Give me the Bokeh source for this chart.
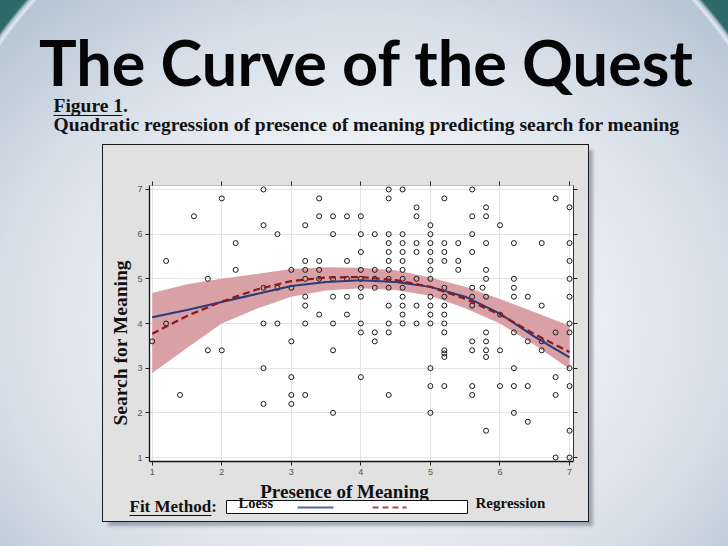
from bokeh.plotting import figure
from bokeh.models import (Range1d, LinearAxis, FixedTicker, Title, Column, Row, Spacer)
from bokeh.core.properties import value
from bokeh.embed import file_html
from bokeh.resources import INLINE

# ---------------- data ----------------
# Search for Meaning levels and the Presence of Meaning scores observed at each level
search_levels = [7.0, 6.8, 6.6, 6.4, 6.2, 6.0, 5.8, 5.6, 5.4, 5.2, 5.0, 4.8, 4.6, 4.4, 4.2,
                 4.0, 3.8, 3.6, 3.4, 3.33, 3.25, 3.0, 2.8, 2.6, 2.4, 2.2, 2.0, 1.8, 1.6, 1.0]
presence_at_7_0 = [2.6, 4.4, 4.6, 5.6]
presence_at_6_8 = [2.0, 3.4, 4.4, 5.2, 6.8]
presence_at_6_6 = [4.8, 5.8, 7.0]
presence_at_6_4 = [1.6, 3.4, 3.6, 3.8, 4.0, 4.8, 5.6, 5.8]
presence_at_6_2 = [2.6, 3.2, 5.0, 6.0]
presence_at_6_0 = [2.8, 3.6, 4.0, 4.2, 4.4, 4.6, 5.0, 5.6]
presence_at_5_8 = [2.2, 4.4, 4.6, 4.8, 5.0, 5.2, 5.4, 5.8, 6.2, 6.6, 7.0]
presence_at_5_6 = [4.0, 4.4, 4.6, 4.8, 5.0, 5.2, 5.6]
presence_at_5_4 = [1.2, 3.2, 3.4, 3.8, 4.4, 4.6, 5.0, 5.2, 5.4, 7.0]
presence_at_5_2 = [2.2, 3.0, 3.2, 3.4, 4.0, 4.2, 4.4, 4.6, 5.0, 5.4, 5.8]
presence_at_5_0 = [1.8, 3.2, 3.4, 3.6, 3.8, 4.0, 4.2, 4.4, 4.6, 4.8, 5.0, 5.8, 6.2, 7.0]
presence_at_4_8 = [2.6, 2.8, 3.0, 4.0, 4.2, 4.4, 4.6, 5.2, 5.6, 5.75, 6.2]
presence_at_4_6 = [3.2, 3.6, 3.8, 4.0, 4.6, 5.0, 5.2, 5.6, 5.8, 6.2, 6.4, 7.0]
presence_at_4_4 = [3.2, 4.4, 4.6, 4.8, 5.0, 5.2, 5.6, 6.6]
presence_at_4_2 = [3.4, 3.8, 4.6, 5.0, 5.2, 6.0]
presence_at_4_0 = [1.2, 2.6, 2.8, 3.2, 3.6, 4.0, 4.4, 4.6, 4.8, 5.0, 5.2, 7.0]
presence_at_3_8 = [4.0, 4.2, 4.4, 5.2, 5.8, 6.2, 6.8, 7.0]
presence_at_3_6 = [1.0, 3.0, 4.2, 5.6, 5.8, 6.4, 6.6]
presence_at_3_4 = [1.8, 2.0, 3.6, 5.2, 5.6, 5.8, 6.0, 6.6]
presence_at_3_33 = [5.2]
presence_at_3_25 = [5.2, 5.8]
presence_at_3_0 = [2.6, 5.0, 6.2, 7.0]
presence_at_2_8 = [3.0, 4.0, 6.8]
presence_at_2_6 = [5.0, 5.2, 5.6, 6.0, 6.2, 6.4, 7.0]
presence_at_2_4 = [1.4, 3.0, 3.2, 4.4, 5.6, 6.8]
presence_at_2_2 = [2.6, 3.0]
presence_at_2_0 = [3.6, 5.0, 6.2]
presence_at_1_8 = [6.4]
presence_at_1_6 = [5.8, 7.0]
presence_at_1_0 = [6.8, 7.0]

presence_rows = [presence_at_7_0, presence_at_6_8, presence_at_6_6, presence_at_6_4,
                 presence_at_6_2, presence_at_6_0, presence_at_5_8, presence_at_5_6,
                 presence_at_5_4, presence_at_5_2, presence_at_5_0, presence_at_4_8,
                 presence_at_4_6, presence_at_4_4, presence_at_4_2, presence_at_4_0,
                 presence_at_3_8, presence_at_3_6, presence_at_3_4, presence_at_3_33,
                 presence_at_3_25, presence_at_3_0, presence_at_2_8, presence_at_2_6,
                 presence_at_2_4, presence_at_2_2, presence_at_2_0, presence_at_1_8,
                 presence_at_1_6, presence_at_1_0]

# fitted curves
curve_x = [1.0, 1.5, 2.0, 2.5, 3.0, 3.5, 4.0, 4.5, 5.0, 5.5, 6.0, 6.5, 7.0]
loess_y = [4.14, 4.30, 4.48, 4.66, 4.84, 4.93, 4.97, 4.93, 4.82, 4.60, 4.22, 3.70, 3.24]
regression_y = [3.77, 4.17, 4.49, 4.76, 4.95, 5.03, 5.04, 4.97, 4.82, 4.55, 4.20, 3.76, 3.36]
band_lower = [2.89, 3.45, 4.00, 4.33, 4.60, 4.74, 4.79, 4.75, 4.62, 4.34, 4.00, 3.52, 2.98]
band_upper = [4.68, 4.88, 5.00, 5.11, 5.22, 5.26, 5.25, 5.19, 5.03, 4.82, 4.55, 4.25, 3.95]

axis_ticks = [1, 2, 3, 4, 5, 6, 7]

title_text = "The Curve of the Quest"
figure_text = "Figure 1."
caption_text = "Quadratic regression of presence of meaning predicting search for meaning"
x_title = "Presence of Meaning"
y_title = "Search for Meaning"
legend_title = "Fit Method:"
legend_labels = ["Loess", "Regression"]

# ---------------- build ----------------
pm = []
sm = []
for lvl, row in zip(search_levels, presence_rows):
    for v in row:
        pm.append(v)
        sm.append(lvl)

SERIF = "Liberation Serif"
INK = "#111111"
PANEL = "#e1e1e1"
BG = ("radial-gradient(circle 452px at 364px 300px, rgba(0,0,0,0) 443px, "
      "rgba(228,240,240,0.9) 446px, rgba(0,0,0,0) 449px, #2f6b6b 452px, #1d5252 560px), "
      "radial-gradient(ellipse 520px 430px at 364px 320px, #fafbfc 0%, #edf1f5 40%, "
      "#d6dee8 70%, #b2c1d1 100%)")


def bare_figure(w, h, fill):
    f = figure(width=w, height=h, output_backend="svg", toolbar_location=None,
               x_range=Range1d(0, w), y_range=Range1d(h, 0), title=None,
               x_axis_location=None, y_axis_location=None,
               min_border=0, min_border_left=0, min_border_right=0,
               min_border_top=0, min_border_bottom=0)
    f.grid.visible = False
    f.outline_line_color = None
    f.border_fill_color = fill
    f.background_fill_color = fill
    return f


def shift(px):
    # the text anchor sits about a third of the font size above the drawn baseline
    return 0.34 * px


# ---- slide heading ----
tf = bare_figure(728, 145, None)
tf.text(x=[366], y=[82 - shift(63)], text=[title_text], text_font=value("Lato"),
        text_font_style="bold", text_font_size="63px", text_align="center",
        text_baseline="alphabetic", text_color="#050505")
tf.text(x=[53, 53], y=[112 - shift(19.5), 131 - shift(19.5)],
        text=[figure_text, caption_text],
        text_font=value(SERIF), text_font_style="bold", text_font_size="19.5px",
        text_align="left", text_baseline="alphabetic", text_color=INK)
tf.segment(x0=[53], y0=[115], x1=[122], y1=[115], line_color=INK, line_width=1.2)

# ---- chart ----
cf = figure(width=485, height=335, output_backend="svg", toolbar_location=None,
            title=None, x_range=Range1d(0.961, 7.057), y_range=Range1d(0.911, 7.089),
            min_border_left=45, min_border_right=15, min_border_top=40,
            min_border_bottom=19)
cf.border_fill_color = PANEL
cf.background_fill_color = "white"
cf.outline_line_color = None

for ax in (cf.xaxis[0], cf.yaxis[0]):
    ax.ticker = FixedTicker(ticks=axis_ticks)
    ax.axis_line_color = "#111111"
    ax.axis_line_width = 1.3
    ax.major_tick_out = 4
    ax.major_tick_in = 0
    ax.major_tick_line_color = "#222222"
    ax.minor_tick_line_color = None
    ax.major_label_text_font = "Liberation Sans"
    ax.major_label_text_font_size = "9px"
    ax.major_label_text_color = "#555555"
    ax.major_label_standoff = 3

for g in (cf.xgrid[0], cf.ygrid[0]):
    g.ticker = FixedTicker(ticks=axis_ticks)
    g.grid_line_color = "#e4e4e4"

for place, col in (("above", "#bbbbbb"), ("right", "#333333")):
    ax = LinearAxis(ticker=FixedTicker(ticks=axis_ticks),
                    major_label_overrides={float(t): "" for t in axis_ticks},
                    axis_line_color=col, major_tick_out=4, major_tick_in=0,
                    major_tick_line_color="#222222", minor_tick_line_color=None)
    cf.add_layout(ax, place)

cf.add_layout(Title(text=y_title, align="left", offset=36, vertical_align="bottom",
                    standoff=8, text_font=SERIF, text_font_style="bold",
                    text_font_size="19.5px", text_color=INK), "left")

cf.varea(x=curve_x, y1=band_lower, y2=band_upper, fill_color="#d9a1a5", fill_alpha=1)
cf.scatter(x=pm, y=sm, marker="circle", size=5, fill_color=None,
           line_color="#1a1a1a", line_width=1)
cf.line(curve_x, loess_y, line_color="#283c7c", line_width=2)
cf.line(curve_x, regression_y, line_color="#8b1a1a", line_width=2.2, line_dash="7 4")

# ---- x title + fit-method legend strip (inside the gray panel) ----
lf = bare_figure(485, 41, PANEL)
lf.text(x=[241], y=[17 - shift(19)], text=[x_title], text_font=value(SERIF),
        text_font_style="bold", text_font_size="19px", text_align="center",
        text_baseline="alphabetic", text_color=INK)
lf.text(x=[26], y=[32 - shift(17)], text=[legend_title], text_font=value(SERIF),
        text_font_style="bold", text_font_size="17px", text_align="left",
        text_baseline="alphabetic", text_color=INK)
lf.segment(x0=[26], y0=[35], x1=[108], y1=[35], line_color=INK, line_width=1.2)
lf.quad(left=[123], right=[364], top=[20], bottom=[33], fill_color="white",
        line_color=INK, line_width=1)
lf.text(x=[135], y=[27 - shift(14.5)], text=[legend_labels[0]], text_font=value(SERIF),
        text_font_style="bold", text_font_size="14.5px", text_align="left",
        text_baseline="alphabetic", text_color=INK)
lf.segment(x0=[194], y0=[27], x1=[230], y1=[27], line_color="#4a6a9c", line_width=2)
lf.segment(x0=[269], y0=[27], x1=[303], y1=[27], line_color="#a84a4a", line_width=2,
           line_dash="6 4")
lf.text(x=[372], y=[28 - shift(15)], text=[legend_labels[1]], text_font=value(SERIF),
        text_font_style="bold", text_font_size="15px", text_align="left",
        text_baseline="alphabetic", text_color=INK)

# wrap the strip in its own row so its frame is not aligned with the chart frame
strip = Row(children=[lf], width=485, height=41, spacing=0)
panel = Column(children=[cf, strip], width=485, height=376, spacing=0,
               styles={"background": PANEL, "outline": "1.5px solid #1a1a1a",
                       "box-shadow": "5px 5px 3px rgba(80,95,110,0.45)"})
mid = Row(children=[Spacer(width=103, height=376), panel], width=728, height=376, spacing=0)
root = Column(children=[tf, mid], width=728, height=546, spacing=0,
              styles={"background": BG})

open("out.html", "w").write(file_html(root, INLINE))
